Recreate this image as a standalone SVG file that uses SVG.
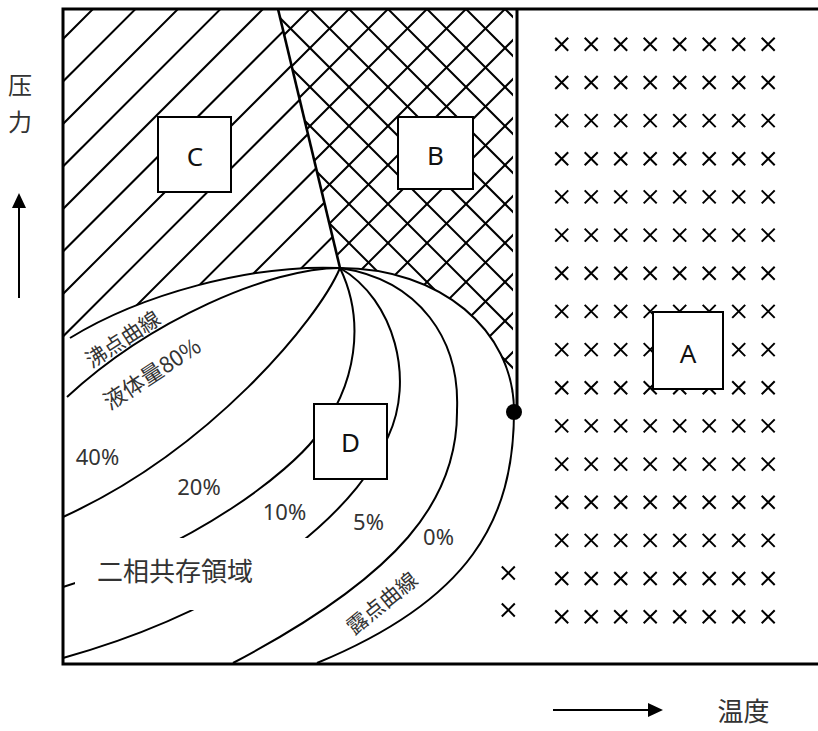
<svg xmlns="http://www.w3.org/2000/svg" xmlns:xlink="http://www.w3.org/1999/xlink" width="818" height="731" viewBox="0 0 818 731">
<style>
.hatch{stroke:#000;stroke-width:2;fill:none}
.curve{stroke:#000;stroke-width:2;fill:none}
.frame{stroke:#000;stroke-width:3;fill:none;stroke-linejoin:miter}
.box rect{fill:#fff;stroke:#000;stroke-width:2}
.box text{font-family:"Noto Sans","Liberation Sans",sans-serif;font-size:26px;fill:#111;text-anchor:middle}
.lbl{font-family:"Noto Sans CJK JP",sans-serif;fill:#333;text-anchor:middle}
.pct{font-family:"Noto Sans","Noto Sans CJK JP",sans-serif;font-size:22px;fill:#333;text-anchor:middle}
.axis{stroke:#000;stroke-width:2;fill:none}
</style>
<defs>
<clipPath id="clipC"><path d="M63,9 L278,9 L340,268 C250,264 140,295 70,338 L63,340 Z"/></clipPath>
<clipPath id="clipB"><path d="M278,9 L513,9 L513,411 C514,330 440,268 340,268 Z"/></clipPath>
<path id="xm" d="M-6.5,-6.5 L6.5,6.5 M6.5,-6.5 L-6.5,6.5" stroke="#000" stroke-width="2" fill="none"/>
<g id="xrow">
<use xlink:href="#xm" x="561.7" y="0"/><use xlink:href="#xm" x="591.2" y="0"/><use xlink:href="#xm" x="620.7" y="0"/><use xlink:href="#xm" x="650.2" y="0"/>
<use xlink:href="#xm" x="679.7" y="0"/><use xlink:href="#xm" x="709.2" y="0"/><use xlink:href="#xm" x="738.7" y="0"/><use xlink:href="#xm" x="768.2" y="0"/>
</g>
<marker id="arr" markerUnits="userSpaceOnUse" markerWidth="16" markerHeight="14" refX="0" refY="7" orient="auto">
<path d="M0,0 L15,7 L0,14 Z" fill="#000"/>
</marker>
</defs>

<g id="hatch-C" clip-path="url(#clipC)">
<path class="hatch" d="M-598,700 L102,0 M-555.5,700 L144.5,0 M-513,700 L187,0 M-470.5,700 L229.5,0 M-428,700 L272,0 M-385.5,700 L314.5,0 M-343,700 L357,0 M-300.5,700 L399.5,0 M-258,700 L442,0 M-215.5,700 L484.5,0 M-173,700 L527,0 M-130.5,700 L569.5,0 M-88,700 L612,0"/>
</g>
<g id="hatch-B" clip-path="url(#clipB)">
<path class="hatch" d="M-420,700 L280,0 M-381,700 L319,0 M-342,700 L358,0 M-303,700 L397,0 M-264,700 L436,0 M-225,700 L475,0 M-186,700 L514,0 M-147,700 L553,0 M-108,700 L592,0 M-69,700 L631,0 M-30,700 L670,0 M9,700 L709,0 M48,700 L748,0 M87,700 L787,0 M126,700 L826,0 M165,700 L865,0 M204,700 L904,0 M243,700 L943,0"/>
<path class="hatch" d="M67,0 L767,700 M106,0 L806,700 M145,0 L845,700 M184,0 L884,700 M223,0 L923,700 M262,0 L962,700 M301,0 L1001,700 M340,0 L1040,700 M379,0 L1079,700 M418,0 L1118,700 M457,0 L1157,700 M496,0 L1196,700"/>
</g>

<g id="connectors">
<path id="boundary-CB" d="M278,9 L340,268" stroke="#000" stroke-width="2.6" fill="none"/>
<path id="boiling" class="curve" d="M340,268 C250,264 140,295 70,338"/>
<path id="q80" class="curve" d="M340,268 C270,268 150,320 67,397"/>
<path id="q40" class="curve" d="M340,268 C318,320 210,450 63,517"/>
<path id="q20" class="curve" d="M340,268 C365,320 358,385 315,438 C290,470 200,545 63,587"/>
<path id="q10" class="curve" d="M340,268 C395,300 415,380 388,437 C365,495 270,600 63,658"/>
<path id="q5" class="curve" d="M340,268 C420,280 460,340 457,410 C458,500 400,575 233,663"/>
<path id="dew" class="curve" d="M340,268 C440,268 514,330 514,411 C514,520 470,600 317,663"/>
</g>

<g id="frame">
<path class="frame" d="M818,9 L63,9 L63,664 L818,664"/>
<path class="frame" d="M517,9 L517,411"/>
<circle cx="514" cy="412" r="8" fill="#000"/>
</g>

<g id="markers">
<use xlink:href="#xrow" y="44.3"/><use xlink:href="#xrow" y="82.5"/><use xlink:href="#xrow" y="120.6"/><use xlink:href="#xrow" y="158.8"/>
<use xlink:href="#xrow" y="196.9"/><use xlink:href="#xrow" y="235.1"/><use xlink:href="#xrow" y="273.3"/><use xlink:href="#xrow" y="311.4"/>
<use xlink:href="#xrow" y="349.6"/><use xlink:href="#xrow" y="387.7"/><use xlink:href="#xrow" y="425.9"/><use xlink:href="#xrow" y="464.1"/>
<use xlink:href="#xrow" y="502.2"/><use xlink:href="#xrow" y="540.4"/><use xlink:href="#xrow" y="578.5"/><use xlink:href="#xrow" y="616.7"/>
<use xlink:href="#xm" x="508.3" y="573"/><use xlink:href="#xm" x="508.3" y="610"/>
</g>

<g id="region-label">
<rect x="75" y="538" width="241" height="72" fill="#fff"/>
<text class="lbl" x="175" y="581" font-size="26">二相共存領域</text>
</g>

<g id="node-C" class="box"><rect x="158" y="117" width="73" height="75"/><text x="195" y="166">C</text></g>
<g id="node-B" class="box"><rect x="398" y="117" width="75" height="72"/><text x="435.5" y="165">B</text></g>
<g id="node-A" class="box"><rect x="653" y="312" width="70" height="77"/><text x="688" y="363">A</text></g>
<g id="node-D" class="box"><rect x="314" y="404" width="73" height="75"/><text x="350.5" y="452">D</text></g>

<g id="curve-labels">
<text class="lbl" font-size="21" dominant-baseline="central" transform="translate(122,338) rotate(-33)">沸点曲線</text>
<text class="lbl" font-size="22" dominant-baseline="central" transform="translate(151,372) rotate(-33)">液体量80%</text>
<text class="lbl" font-size="21" dominant-baseline="central" transform="translate(381,602) rotate(-39)">露点曲線</text>
<text class="pct" x="97.5" y="465">40%</text>
<text class="pct" x="199" y="495">20%</text>
<text class="pct" x="284.5" y="520">10%</text>
<text class="pct" x="368.5" y="530">5%</text>
<text class="pct" x="438.5" y="545">0%</text>
</g>

<g id="axes">
<line class="axis" x1="19" y1="298" x2="19" y2="208" marker-end="url(#arr)"/>
<text class="lbl" x="20" y="94" font-size="24">压</text>
<text class="lbl" x="20" y="131" font-size="24">力</text>
<line class="axis" x1="553" y1="710" x2="648" y2="710" marker-end="url(#arr)"/>
<text class="lbl" x="743.5" y="721" font-size="26">温度</text>
</g>
</svg>
